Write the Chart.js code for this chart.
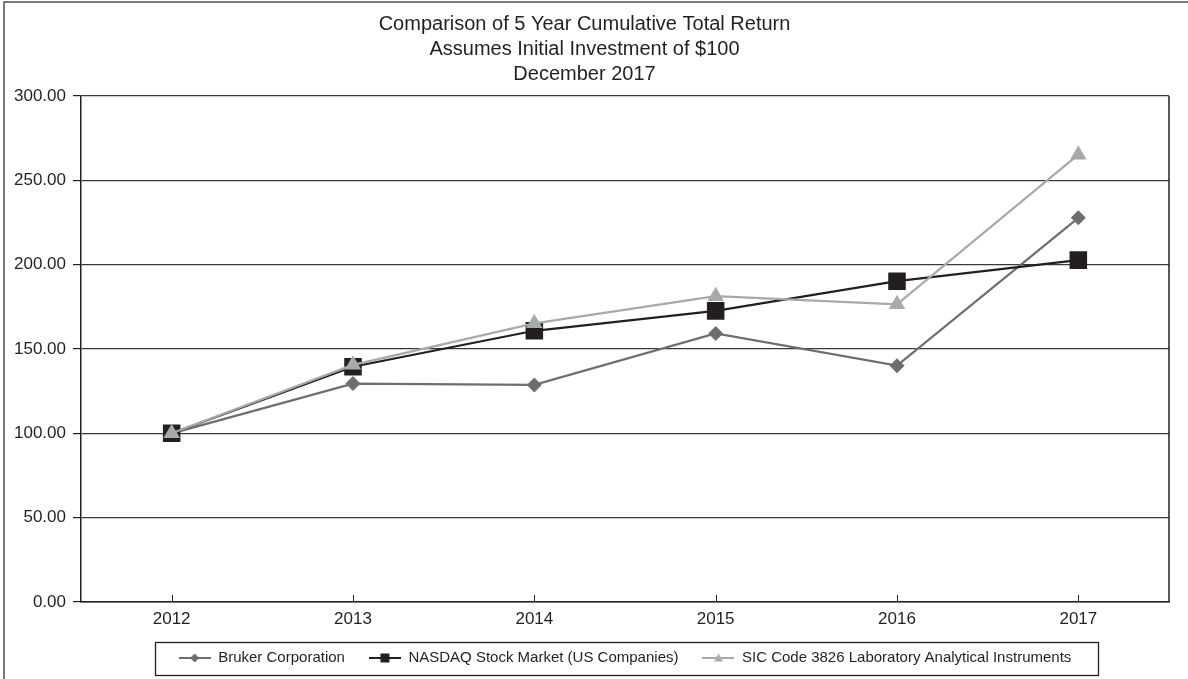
<!DOCTYPE html>
<html>
<head>
<meta charset="utf-8">
<script src="https://cdn.jsdelivr.net/npm/chart.js@4/dist/chart.umd.min.js"></script>
<style>
  html, body { margin: 0; padding: 0; background: #ffffff; }
  #wrap { width: 1188px; height: 679px; position: relative; }
</style>
</head>
<body>
<div id="wrap"><canvas id="c" width="1188" height="679"></canvas></div>
<script>
const years = ['2012', '2013', '2014', '2015', '2016', '2017'];
const bruker = [100, 129.5, 128.7, 159.2, 140.1, 227.8];
const nasdaq = [100, 139.5, 160.8, 172.6, 190.2, 202.7];
const sic = [100, 140.6, 165.2, 181.3, 176.5, 265.2];
const seriesNames = [
  'Bruker Corporation',
  'NASDAQ Stock Market (US Companies)',
  'SIC Code 3826 Laboratory Analytical Instruments'
];
const titleLines = [
  'Comparison of 5 Year Cumulative Total Return',
  'Assumes Initial Investment of $100',
  'December 2017'
];
const yTicks = { min: 0, max: 300, step: 50 };

const FONT = '"Liberation Sans", Arial, Helvetica, sans-serif';
const COL_BRUKER = '#6d6e70';
const COL_NASDAQ = '#231f20';
const COL_SIC = '#a7a9ac';
const TEXT = '#231f20';

function legendIcon(color, shape) {
  const c = document.createElement('canvas');
  c.width = 32; c.height = 14;
  const g = c.getContext('2d');
  g.strokeStyle = color; g.lineWidth = 2;
  g.beginPath(); g.moveTo(0, 7); g.lineTo(32, 7); g.stroke();
  g.fillStyle = color;
  g.beginPath();
  if (shape === 'diamond') {
    g.moveTo(16, 2.5); g.lineTo(20.5, 7); g.lineTo(16, 11.5); g.lineTo(11.5, 7);
  } else if (shape === 'square') {
    g.rect(11.5, 2.5, 9, 9);
  } else {
    g.moveTo(16, 2.5); g.lineTo(20.5, 10.5); g.lineTo(11.5, 10.5);
  }
  g.closePath(); g.fill();
  return c;
}
const icons = [
  legendIcon(COL_BRUKER, 'diamond'),
  legendIcon(COL_NASDAQ, 'square'),
  legendIcon(COL_SIC, 'triangle')
];

const framePlugin = {
  id: 'frame',
  beforeDraw(chart) {
    const ctx = chart.ctx;
    ctx.save();
    ctx.strokeStyle = '#4d4d4f';
    ctx.lineWidth = 1.5;
    ctx.beginPath();
    ctx.moveTo(4, 679); ctx.lineTo(4, 2); ctx.lineTo(1188, 2);
    ctx.stroke();
    ctx.restore();
  },
  afterDraw(chart) {
    const ctx = chart.ctx;
    const a = chart.chartArea;
    const xs = chart.scales.x;
    ctx.save();
    ctx.strokeStyle = '#231f20';
    ctx.lineWidth = 1.5;
    ctx.beginPath();
    ctx.moveTo(a.right, a.top); ctx.lineTo(a.right, a.bottom);
    ctx.stroke();
    ctx.lineWidth = 1;
    for (let i = 0; i < years.length; i++) {
      const px = Math.round(xs.getPixelForTick(i)) + 0.5;
      ctx.beginPath();
      ctx.moveTo(px, a.bottom); ctx.lineTo(px, a.bottom - 7);
      ctx.stroke();
    }
    const lg = chart.legend;
    if (lg && lg.legendHitBoxes && lg.legendHitBoxes.length) {
      const hb = lg.legendHitBoxes;
      let l = Infinity, r = -Infinity;
      hb.forEach(h => { l = Math.min(l, h.left); r = Math.max(r, h.left + h.width); });
      const cy = hb[0].top + hb[0].height / 2;
      l -= 24; r += 26;
      ctx.lineWidth = 1.3;
      ctx.strokeRect(Math.round(l) + 0.5, Math.round(cy - 16.5) + 0.5, Math.round(r - l), 33);
    }
    ctx.restore();
  }
};

new Chart(document.getElementById('c'), {
  type: 'line',
  data: {
    labels: years,
    datasets: [
      {
        label: seriesNames[0], data: bruker, order: 3,
        borderColor: COL_BRUKER, backgroundColor: COL_BRUKER, borderWidth: 2.2,
        pointStyle: 'rectRot', pointRadius: 7.5, pointHoverRadius: 7.5,
        pointBorderWidth: 0, pointBackgroundColor: COL_BRUKER, tension: 0
      },
      {
        label: seriesNames[1], data: nasdaq, order: 2,
        borderColor: COL_NASDAQ, backgroundColor: COL_NASDAQ, borderWidth: 2.2,
        pointStyle: 'rect', pointRadius: 12.4, pointHoverRadius: 12.4,
        pointBorderWidth: 0, pointBackgroundColor: COL_NASDAQ, tension: 0
      },
      {
        label: seriesNames[2], data: sic, order: 1,
        borderColor: COL_SIC, backgroundColor: COL_SIC, borderWidth: 2.2,
        pointStyle: 'triangle', pointRadius: 9.5, pointHoverRadius: 9.5,
        pointBorderWidth: 0, pointBackgroundColor: COL_SIC, tension: 0
      }
    ]
  },
  options: {
    responsive: false,
    animation: false,
    devicePixelRatio: 1,
    layout: { padding: { left: 0, right: 19, top: 0, bottom: 3.5 } },
    plugins: {
      tooltip: { enabled: false },
      title: {
        display: true,
        text: titleLines,
        color: TEXT,
        font: { family: FONT, size: 20, weight: 'normal', lineHeight: 1.25 },
        padding: { top: 12, bottom: 9 }
      },
      legend: {
        display: true,
        position: 'bottom',
        fullSize: false,
        labels: {
          usePointStyle: true,
          pointStyleWidth: 32,
          padding: 24,
          color: TEXT,
          font: { family: FONT, size: 15 },
          sort: (a, b) => a.datasetIndex - b.datasetIndex,
          generateLabels(chart) {
            const base = Chart.defaults.plugins.legend.labels.generateLabels(chart);
            return base.map(it => Object.assign({}, it, { pointStyle: icons[it.datasetIndex], lineWidth: 0 }));
          }
        }
      }
    },
    scales: {
      x: {
        type: 'category',
        offset: true,
        grid: { display: false, drawTicks: false },
        border: { display: true, color: '#231f20', width: 1.5 },
        ticks: { color: TEXT, font: { family: FONT, size: 17 }, padding: 7, maxRotation: 0 },
        afterFit(s) { s.height = 24.5; }
      },
      y: {
        min: yTicks.min,
        max: yTicks.max,
        grid: { color: '#3a3a3a', lineWidth: 1.2, tickLength: 8, tickColor: '#231f20', drawTicks: true },
        border: { display: true, color: '#231f20', width: 1.5 },
        ticks: {
          stepSize: yTicks.step,
          color: TEXT,
          font: { family: FONT, size: 17 },
          padding: 7,
          callback: v => Number(v).toFixed(2)
        },
        afterFit(s) { s.width = 81; }
      }
    }
  },
  plugins: [framePlugin]
});
</script>
</body>
</html>
